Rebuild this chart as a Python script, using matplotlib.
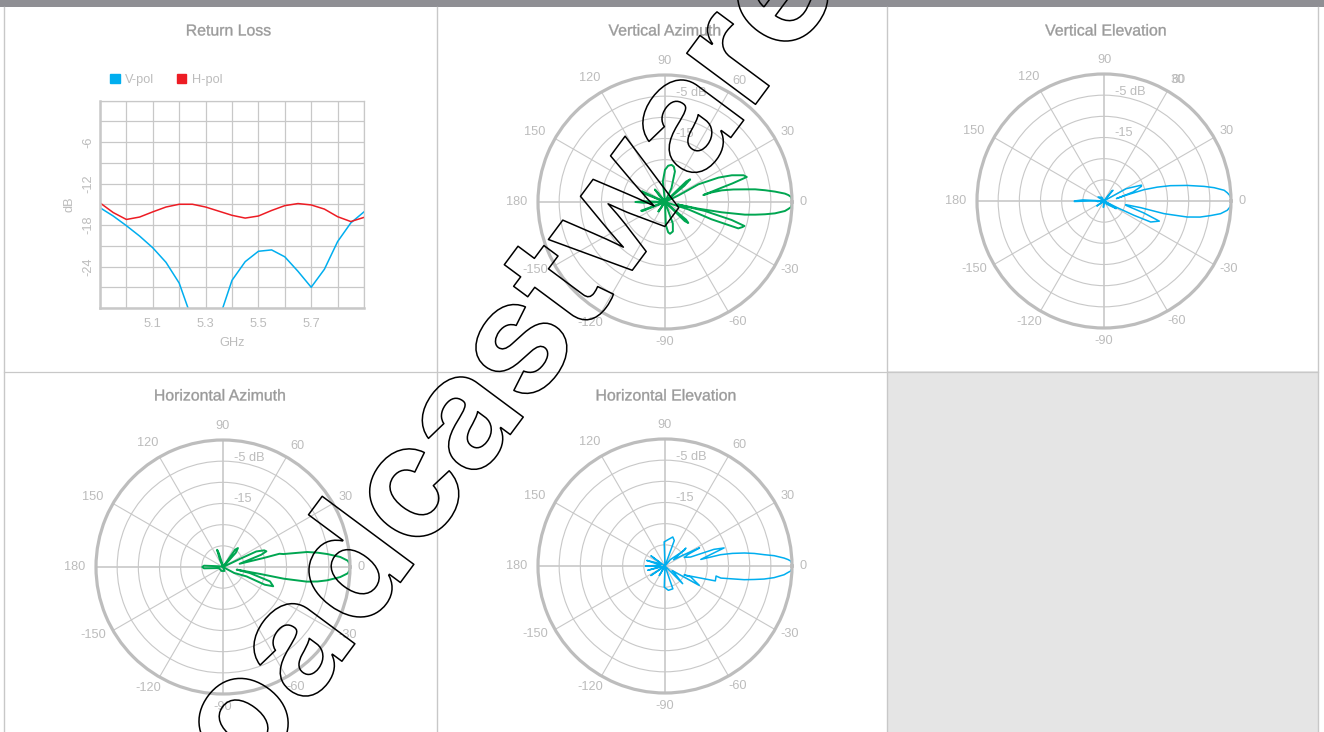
import numpy as np
import matplotlib
matplotlib.use('Agg')
import matplotlib.pyplot as plt
from matplotlib.patches import Patch, Rectangle
from matplotlib.patheffects import Stroke

plt.rcParams['font.family'] = ['Liberation Sans', 'DejaVu Sans']

W, H = 1324, 732
BLUE = '#00aeef'
GREEN = '#00a651'
RED = '#ed1c24'
GRID = '#c8c8c8'
TICK = '#bcbcbc'
TITLE = '#9a9a9a'

# return loss
freq = [4.9, 4.95, 5.0, 5.05, 5.1, 5.15, 5.2, 5.25, 5.3, 5.35, 5.4, 5.45, 5.5, 5.55, 5.6, 5.65, 5.7, 5.75, 5.8, 5.85, 5.9]
vpol = [-15.5, -16.7, -18.1, -19.6, -21.3, -23.4, -26.4, -31.8, -34, -31.7, -26, -23.3, -21.8, -21.6, -22.6, -24.7, -27, -24.4, -20.4, -17.7, -16.1]
hpol = [-14.8, -16.2, -17.2, -16.85, -16.1, -15.4, -15, -15, -15.4, -16, -16.6, -17, -16.7, -15.9, -15.2, -14.9, -15.1, -15.7, -16.8, -17.5, -16.9]

# polar patterns, angle in degrees and level in dB
va_deg = [0, 1.2, 2.3, 3.2, 4, 5.4, 6.7, 8, 9, 10.4, 11.6, 11.6, 10.3, 14.2, 15.4, 16.5, 17, 18.8, 21.8, 24.5, 27.9, 26, 33, 40, 42, 44, 38, 55, 65, 72, 76, 80, 85, 90, 96, 105, 127, 129, 132, 150, 155, 158, 170, 178, 180, 182, 190, -160, -158, -156, -130, -125, -120, -95, -88, -84, -81, -75, -70, -62, -50, -44, -42, -40, -30, -17.5, -20.4, -19.8, -18, -16.8, -15.1, -12.7, -11, -11.3, -10.3, -9, -8, -7, -5.9, -4.3, -3.2, -2.3, -1.2, 0]
va_db = [0, -0.05, -0.2, -0.8, -1.6, -3.9, -6.2, -8.5, -10.9, -13.6, -16.3, -18.8, -20.8, -16.2, -13.5, -11.1, -9.8, -10.4, -13, -16.1, -21.1, -26.5, -30, -24, -22, -23, -30, -30, -26.4, -22.4, -21.4, -21.1, -21.4, -22.4, -25.1, -30, -27.5, -26.2, -28, -30, -24, -24.5, -30, -25, -23, -25, -30, -24, -24.2, -30, -30, -27.3, -30, -30, -24.6, -22.8, -22.4, -22.8, -24.6, -30, -30, -23.5, -22.6, -23.5, -30, -24.2, -18.3, -11.6, -10.8, -10.4, -13.7, -20.3, -27, -22, -16.4, -10.9, -8.5, -6.2, -3.9, -1.6, -0.8, -0.2, -0.05, 0]

ve_deg = [0, 1.3, 2.6, 3.8, 5.1, 6.9, 8.3, 10.6, 13, 14.6, 15.8, 14.7, 11, 17.2, 21.4, 23, 29, 30, 40, 50, 52, 60, 90, 120, 146, 150, 170, 177, 180, 181, 178, 185, 200, 215, 240, 265, 290, 310, -32, -30, -28, -26.6, -25.5, -24.2, -20, -16.7, -11.3, -9.6, -10.3, -11.9, -10.9, -9.5, -7.8, -6.2, -4.3, -2.7, -1.3, 0]
ve_db = [0, -0.05, -0.3, -0.8, -1.5, -3.8, -6.1, -10, -13.9, -17, -20.2, -24.7, -27, -22.8, -20.5, -20.4, -24, -28.5, -30, -26.7, -27, -30, -30, -29, -28.3, -30, -30, -25, -23, -23, -28, -28.5, -30, -28, -30, -28.5, -30, -29, -26.6, -28, -30, -26.5, -22.1, -17.9, -16.1, -20.2, -24.7, -24.8, -21.2, -15.5, -10, -7, -4.6, -2.3, -0.8, -0.2, -0.05, 0]

ha_deg = [0, 1.5, 2.9, 4.9, 7.1, 8.6, 10.1, 12.1, 13.2, 12.5, 11, 17.8, 19.9, 22, 25, 25.6, 35, 48, 51.7, 55, 60, 100, 107, 109, 113, 140, 170, 176, 180, 184, 195, 250, 290, -50, -28, -21.8, -23, -21, -17, -12.7, -10.8, -10.6, -10.9, -9.9, -8.7, -7.3, -4.9, -2.9, -1.5, 0]
ha_db = [0, -0.1, -0.5, -2.2, -5.2, -7.4, -9.8, -15.4, -16.3, -20.2, -26, -20.5, -19.1, -19.5, -21.3, -25.6, -30, -25.5, -24.3, -25, -30, -29.5, -26.5, -25.7, -28.1, -30, -29, -25.5, -25.1, -25.5, -29, -29, -29, -30, -27, -24, -19.3, -17.3, -18.4, -23.5, -26.7, -21.2, -15.4, -9.9, -7.4, -5.2, -2.2, -0.5, -0.1, 0]

he_deg = [0, 1.2, 2.3, 3, 3.8, 5.4, 6.5, 8, 9.3, 10.6, 11.5, 10.4, 14, 17, 18.8, 19.3, 24, 26.6, 27.7, 31, 36, 40.6, 39, 50, 60, 70, 75, 92, 97, 105, 125, 144, 150, 163, 170, 180, 186, 194, 205, 214, 225, 239, 250, 268, 278, -71, -65, -52, -45, -38, -33, -29.4, -23, -25, -16.5, -11.1, -12.2, -9.8, -8.6, -7.5, -6.1, -4.2, -3, -2.3, -1.2, 0]
he_db = [0, -0.05, -0.3, -0.9, -1.8, -4.1, -6.4, -8.7, -11, -13.8, -16.6, -21.4, -19, -15.4, -17.8, -23.6, -25, -24, -20.8, -25, -27.5, -23.5, -24.1, -28, -30, -23.6, -22.9, -24.3, -30, -30, -30, -25.9, -29, -25.5, -29, -25.4, -29, -25.8, -30, -26, -30, -27.4, -30, -25, -24.2, -24.3, -30, -30, -24.1, -27, -28, -20.7, -23.4, -25, -17.6, -17.7, -16.5, -11, -8.7, -6.4, -4.1, -1.8, -0.9, -0.3, -0.05, 0]

angle_ticks = [0, 30, 60, 90, 120, 150, 180, 210, 240, 270, 300, 330]
angle_names = ['0', '30', '60', '90', '120', '150', '180', '-150', '-120', '-90', '-60', '-30']
level_ticks = [-25, -20, -15, -10, -5]
level_names = ['-5 dB', '-15']

# label offsets from the centre of a polar chart, in pixels
angle_pos = [(138, 0), (123, 70), (74, 121), (0, 141), (-75, 124), (-130, 70), (-148, 0), (-130, -68), (-75, -121), (0, -140), (73, -120), (125, -68)]
level_pos = [(26, 109), (20, 68)]


def pixel_axes(x0, y0, x1, y1, **kw):
    return fig.add_axes([x0 / W, 1 - y1 / H, (x1 - x0) / W, (y1 - y0) / H], **kw)


def polar_chart(cx, cy, title, deg, db, color, lw, title_x, title_y):
    R = 127
    ax = pixel_axes(cx - R, cy - R, cx + R, cy + R, projection='polar')
    ax.set_rlim(-30, 0)
    ax.set_thetagrids(angle_ticks, labels=[''] * 12)
    ax.set_rgrids(level_ticks, labels=[''] * 5)
    ax.grid(True, color=GRID, lw=0.8)
    for a, line in zip(angle_ticks, ax.xaxis.get_gridlines()):
        if a % 90 == 0:
            line.set_linewidth(1.2)
    ax.spines['polar'].set_color('#bdbdbd')
    ax.spines['polar'].set_linewidth(2.3)
    ax.tick_params(length=0)
    ax.plot(np.radians(deg), db, color=color, lw=lw, solid_joinstyle='round', clip_on=False)
    for name, (dx, dy) in zip(angle_names + level_names, angle_pos + level_pos):
        ax.text(0.5 + dx / (2 * R), 0.5 + dy / (2 * R), name, transform=ax.transAxes,
                ha='center', va='center', color=TICK, fontsize=9.2, clip_on=False)
    panel_title(title_x, title_y, title)
    return ax


def panel_title(x, y, title):
    fig.text(x / W, 1 - y / H, title, ha='center', va='center', color=TITLE, fontsize=11.4,
             path_effects=[Stroke(linewidth=0.25, foreground=TITLE)])


fig = plt.figure(figsize=(W / 100, H / 100), dpi=100, facecolor='white')

bg = fig.add_axes([0, 0, 1, 1], zorder=-1)
bg.set_xlim(0, W)
bg.set_ylim(H, 0)
bg.axis('off')
bg.add_patch(Rectangle((0, 0), W, 7, color='#8f8f94', lw=0))
bg.add_patch(Rectangle((887, 371), 431, 361, color='#e5e5e5', lw=0))
for x in [4, 437, 887, 1318]:
    bg.plot([x, x], [7, H], color=GRID, lw=1)
bg.plot([4, 1318], [371.5, 371.5], color=GRID, lw=0.9)

# return loss panel
ax = pixel_axes(100, 100.5, 364, 308)
ax.plot(freq, vpol, color=BLUE, lw=1.1, label='V-pol')
ax.plot(freq, hpol, color=RED, lw=1.1, label='H-pol')
ax.set_xlim(4.9, 5.9)
ax.set_ylim(-30, 0)
ax.set_xticks(np.arange(4.9, 5.91, 0.1))
ax.set_xticklabels(['', '', '5.1', '', '5.3', '', '5.5', '', '5.7', '', ''])
ax.set_yticks(np.arange(-30, 1, 3))
ax.set_yticklabels(['', '', '-24', '', '-18', '', '-12', '', '-6', '', ''], rotation=90, va='center')
ax.grid(True, color=GRID, lw=0.9)
ax.set_axisbelow(True)
ax.tick_params(axis='x', length=0, labelcolor=TICK, labelsize=9.2, pad=7)
ax.tick_params(axis='y', length=0, labelcolor=TICK, labelsize=9.2, pad=4)
for name, sp in ax.spines.items():
    sp.set_color(GRID)
    sp.set_linewidth(0.9)
ax.spines['left'].set_linewidth(1.8)
ax.spines['bottom'].set_linewidth(1.8)
ax.set_xlabel('GHz', color=TICK, fontsize=9.2, labelpad=5)
ax.set_ylabel('dB', color=TICK, fontsize=9.2, labelpad=5)
ax.legend(handles=[Patch(color=BLUE, label='V-pol'), Patch(color=RED, label='H-pol')],
          ncols=2, frameon=False, loc='lower left', bbox_to_anchor=(0.038, 1.07), borderaxespad=0,
          borderpad=0, handlelength=0.75, handleheight=0.75, handletextpad=0.4, columnspacing=1.8,
          labelcolor=TICK, fontsize=9.2)
panel_title(228.5, 31, 'Return Loss')

polar_chart(665, 202, 'Vertical Azimuth', va_deg, va_db, GREEN, 1.4, 665, 31)
ve_ax = polar_chart(1104, 201, 'Vertical Elevation', ve_deg, ve_db, BLUE, 1.1, 1106, 31)
# the reference prints a second label right on top of the 60
ve_ax.text(0.5 + 74 / 254, 0.5 + 121 / 254, '30', transform=ve_ax.transAxes, ha='center', va='center',
           color=TICK, fontsize=9.2, clip_on=False)
polar_chart(223, 567, 'Horizontal Azimuth', ha_deg, ha_db, GREEN, 1.4, 220, 396)
polar_chart(665, 566, 'Horizontal Elevation', he_deg, he_db, BLUE, 1.1, 666, 396)

# outlined watermark over everything
fig.text(149 / W, 1 - 921 / H, 'Broadcastware', rotation=53.4, rotation_mode='anchor', ha='left', va='baseline',
         fontsize=113, fontweight='bold', family='Inter', color='none', zorder=10,
         path_effects=[Stroke(linewidth=1.1, foreground='black')])

fig.savefig('out.png', dpi=100)
